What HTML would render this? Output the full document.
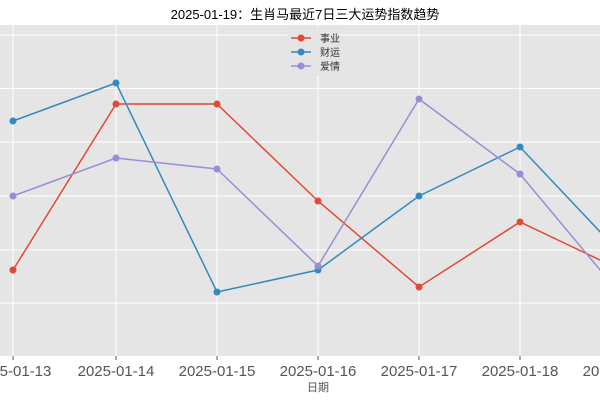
<!DOCTYPE html>
<html><head><meta charset="utf-8"><style>body{margin:0;background:#fff}svg{display:block}</style></head><body>
<svg width="600" height="400" xmlns="http://www.w3.org/2000/svg" font-family="Liberation Sans, Noto Sans CJK SC, sans-serif">
<rect x="0" y="25" width="600" height="331" fill="#E5E5E5"/>
<g stroke="#fff" stroke-width="1">
<line x1="0" x2="600" y1="35" y2="35"/><line x1="0" x2="600" y1="88.5" y2="88.5"/><line x1="0" x2="600" y1="142" y2="142"/><line x1="0" x2="600" y1="196" y2="196"/><line x1="0" x2="600" y1="250" y2="250"/><line x1="0" x2="600" y1="303" y2="303"/>
<line x1="13" x2="13" y1="25" y2="356"/><line x1="116" x2="116" y1="25" y2="356"/><line x1="217" x2="217" y1="25" y2="356"/><line x1="318" x2="318" y1="25" y2="356"/><line x1="419" x2="419" y1="25" y2="356"/><line x1="520" x2="520" y1="25" y2="356"/>
</g>
<g stroke="#555" stroke-width="1"><line x1="13" x2="13" y1="356" y2="360"/><line x1="116" x2="116" y1="356" y2="360"/><line x1="217" x2="217" y1="356" y2="360"/><line x1="318" x2="318" y1="356" y2="360"/><line x1="419" x2="419" y1="356" y2="360"/><line x1="520" x2="520" y1="356" y2="360"/></g>
<g fill="none" stroke-width="1.5">
<polyline stroke="#E24A33" points="13,270 116,104 217,104 318,201 419,287 520,222 621,270"/>
<polyline stroke="#348ABD" points="13,121 116,83 217,292 318,270 419,196 520,147 621,254"/>
<polyline stroke="#988ED5" points="13,196 116,158 217,169 318,266 419,99 520,174 621,295"/>
</g>
<g fill="#E24A33"><circle cx="13" cy="270" r="3.5"/><circle cx="116" cy="104" r="3.5"/><circle cx="217" cy="104" r="3.5"/><circle cx="318" cy="201" r="3.5"/><circle cx="419" cy="287" r="3.5"/><circle cx="520" cy="222" r="3.5"/></g>
<g fill="#348ABD"><circle cx="13" cy="121" r="3.5"/><circle cx="116" cy="83" r="3.5"/><circle cx="217" cy="292" r="3.5"/><circle cx="318" cy="270" r="3.5"/><circle cx="419" cy="196" r="3.5"/><circle cx="520" cy="147" r="3.5"/></g>
<g fill="#988ED5"><circle cx="13" cy="196" r="3.5"/><circle cx="116" cy="158" r="3.5"/><circle cx="217" cy="169" r="3.5"/><circle cx="318" cy="266" r="3.5"/><circle cx="419" cy="99" r="3.5"/><circle cx="520" cy="174" r="3.5"/></g>
<rect x="288" y="28" width="50" height="47" fill="#E5E5E5" stroke="#ddd" stroke-width="0.5"/>
<g stroke-width="1.5"><line x1="291" x2="311" y1="38" y2="38" stroke="#E24A33"/><line x1="291" x2="311" y1="52" y2="52" stroke="#348ABD"/><line x1="291" x2="311" y1="66" y2="66" stroke="#988ED5"/></g>
<circle cx="301" cy="38" r="3.5" fill="#E24A33"/><circle cx="301" cy="52" r="3.5" fill="#348ABD"/><circle cx="301" cy="66" r="3.5" fill="#988ED5"/>
<g font-size="10" fill="#333"><text x="320" y="42">事业</text><text x="320" y="56">财运</text><text x="320" y="70">爱情</text></g>
<text x="305" y="19" font-size="13" text-anchor="middle" fill="#000">2025-01-19：生肖马最近7日三大运势指数趋势</text>
<g font-size="15" fill="#555" text-anchor="middle"><text x="13" y="376">2025-01-13</text><text x="116" y="376">2025-01-14</text><text x="217" y="376">2025-01-15</text><text x="318" y="376">2025-01-16</text><text x="419" y="376">2025-01-17</text><text x="520" y="376">2025-01-18</text><text x="621" y="376">2025-01-19</text></g>
<text x="318" y="391" font-size="11" fill="#555" text-anchor="middle">日期</text>
</svg>
</body></html>
